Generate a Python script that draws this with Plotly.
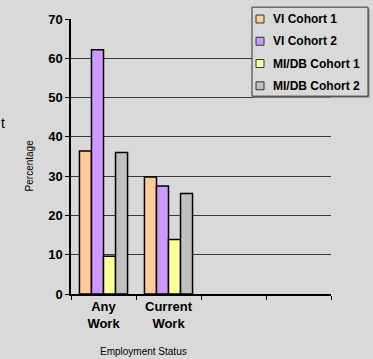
import plotly.graph_objects as go

categories = ["Any<br>Work", "Current<br>Work"]
all_categories = ["Any<br>Work", "Current<br>Work", " ", "  "]
series_names = ["VI Cohort 1", "VI Cohort 2", "MI/DB Cohort 1", "MI/DB Cohort 2"]
vi_cohort_1 = [36.4, 29.8]
vi_cohort_2 = [62.2, 27.5]
midb_cohort_1 = [9.6, 13.9]
midb_cohort_2 = [36.0, 25.6]
colors = ["#FFCC99", "#CC99FF", "#FFFF99", "#C0C0C0"]
y_ticks = [0, 10, 20, 30, 40, 50, 60, 70]

BG = "#D9D9D9"
font_family = "Arial, Liberation Sans, sans-serif"

fig = go.Figure()
for name, vals, col in zip(series_names, [vi_cohort_1, vi_cohort_2, midb_cohort_1, midb_cohort_2], colors):
    fig.add_trace(go.Bar(
        name=name, x=categories, y=vals,
        marker=dict(color=col, line=dict(color="#000000", width=1.5)),
        showlegend=False,
    ))

W, H = 373, 359
L, R, T, B = 71, 42, 16, 65
pw = W - L - R
ph = H - T - B


def px_x(p):
    return (p - L) / pw


def px_y(p):
    return (H - B - p) / ph


shapes = []
annotations = [
    dict(text="Percentage", x=px_x(29), y=px_y(164), xref="paper", yref="paper",
         textangle=-90, showarrow=False, font=dict(size=10, family=font_family),
         xanchor="center", yanchor="middle"),
    dict(text="Employment Status", x=px_x(143.5), y=px_y(352),
         xref="paper", yref="paper", showarrow=False,
         font=dict(size=10, family=font_family), xanchor="center", yanchor="middle"),
    dict(text="t", x=px_x(-1), y=px_y(121), xref="paper", yref="paper",
         showarrow=False, font=dict(size=14, family=font_family),
         xanchor="left", yanchor="middle"),
]

# legend box (drawn manually to match the compact original layout)
lx0, lx1, ly0, ly1 = 252, 368, 4, 94
shapes.append(dict(type="rect", xref="paper", yref="paper",
                   x0=px_x(lx0 + 1.5), x1=px_x(lx1 + 1.5), y0=px_y(ly0 + 1.5), y1=px_y(ly1 + 1.5),
                   line=dict(width=0), fillcolor="#8A8A8A", layer="above"))
shapes.append(dict(type="rect", xref="paper", yref="paper",
                   x0=px_x(lx0), x1=px_x(lx1), y0=px_y(ly0), y1=px_y(ly1),
                   line=dict(color="#333333", width=1), fillcolor=BG, layer="above"))
for i, (name, col) in enumerate(zip(series_names, colors)):
    cy = 16 + i * 22.5
    shapes.append(dict(type="rect", xref="paper", yref="paper",
                       x0=px_x(256), x1=px_x(264), y0=px_y(cy - 4), y1=px_y(cy + 4),
                       line=dict(color="#333333", width=1), fillcolor=col, layer="above"))
    annotations.append(dict(text="<b>" + name + "</b>", x=px_x(271), y=px_y(cy),
                            xref="paper", yref="paper", showarrow=False,
                            xanchor="left", yanchor="middle",
                            font=dict(size=12, family=font_family)))

fig.update_layout(
    width=W, height=H,
    margin=dict(l=L, r=R, t=T, b=B, pad=0),
    paper_bgcolor=BG, plot_bgcolor=BG,
    barmode="group", bargap=0.26, bargroupgap=0,
    font=dict(family=font_family, color="#000000"),
    showlegend=False,
    xaxis=dict(
        type="category", categoryorder="array", categoryarray=all_categories,
        range=[-0.5, 3.5], tickson="boundaries",
        ticks="outside", ticklen=4, tickcolor="#000000", tickwidth=1,
        showline=True, linecolor="#000000", linewidth=1.5,
        showgrid=False, zeroline=False,
        tickfont=dict(size=13, family=font_family, weight="bold"),
    ),
    yaxis=dict(
        range=[0, 70], tickvals=y_ticks,
        ticks="outside", ticklen=4, tickcolor="#000000", tickwidth=1,
        showline=True, linecolor="#000000", linewidth=1.5,
        showgrid=True, gridcolor="#3A3A3A", gridwidth=1,
        zeroline=False,
        tickfont=dict(size=13, family=font_family, weight="bold"),
    ),
    shapes=shapes,
    annotations=annotations,
)

fig.write_html("out.html")
